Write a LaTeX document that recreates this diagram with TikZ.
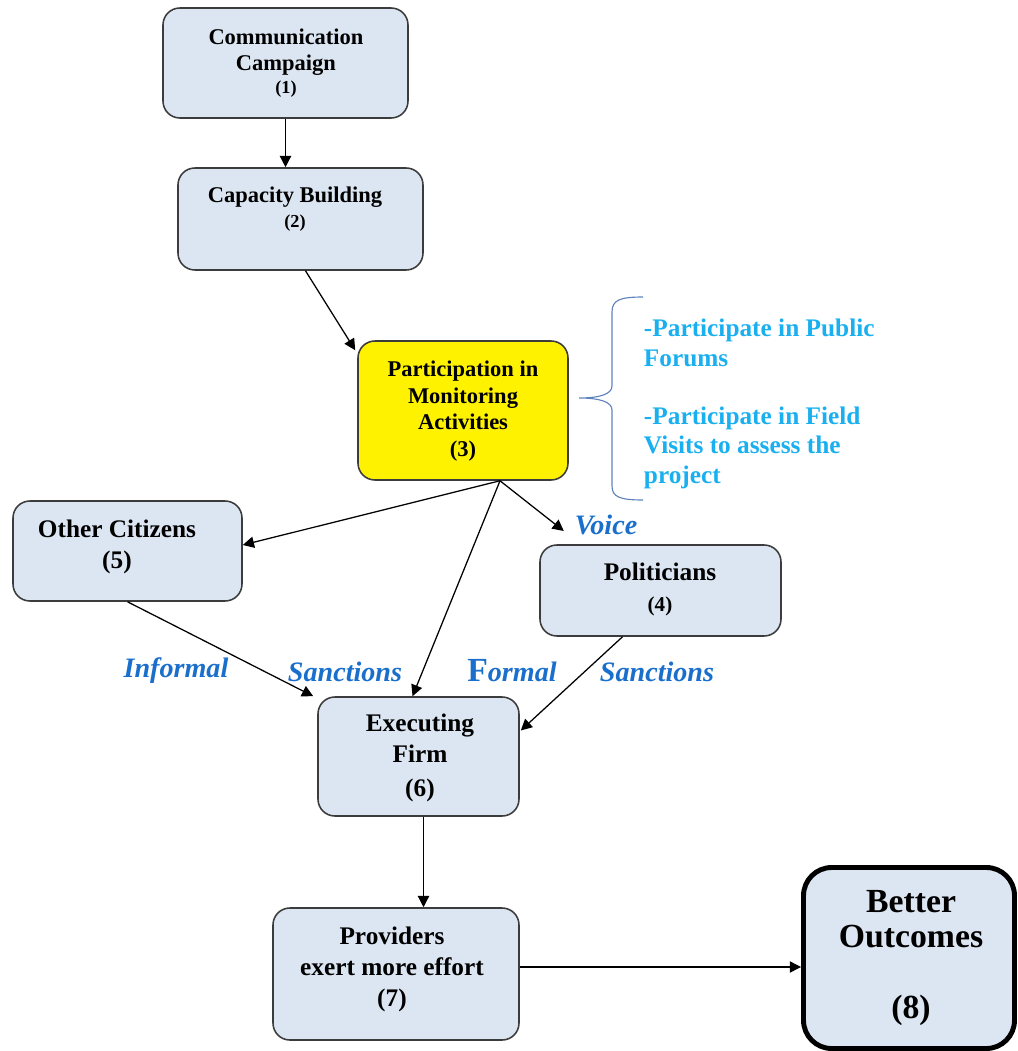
\documentclass[tikz,border=0pt]{standalone}
\usepackage{fontspec}
\setmainfont{Liberation Serif}
\usetikzlibrary{arrows.meta}

\definecolor{boxfill}{RGB}{220,230,242}
\definecolor{boxline}{RGB}{60,60,60}
\definecolor{listblue}{RGB}{26,176,240}
\definecolor{labelblue}{RGB}{26,111,204}
\definecolor{bracecol}{RGB}{95,130,190}

\tikzset{
  box/.style 2 args={draw=boxline, fill=boxfill, line width=1.1pt, rounded corners=12pt,
    minimum width=#1*0.025cm, minimum height=#2*0.025cm, inner sep=0pt},
  boxtext/.style={align=center, font=\fontsize{16}{19}\selectfont\bfseries},
  bigtext/.style={align=center, font=\fontsize{18}{22}\selectfont\bfseries},
  linklabel/.style={text=labelblue, font=\fontsize{20}{24}\selectfont\bfseries\itshape},
  link/.style={line width=0.9pt, -{Triangle[length=8pt,width=8pt]}}
}

\begin{document}
\begin{tikzpicture}[x=0.025cm, y=-0.025cm]
			\useasboundingbox (0,0) rectangle (1018,1051);
			% boxes
			\node [box={245}{110}] (comm) at (285.5,63) {};
			\node [box={245}{102}] (cap) at (300.5,219) {};
			\node [box={210}{139}, fill=yellow] (part) at (463,410.5) {};
			\node [box={229}{100}] (cit) at (127.5,551) {};
			\node [box={241}{91}] (pol) at (660.5,590.5) {};
			\node [box={201}{119}] (firm) at (418.5,756.5) {};
			\node [box={246}{132}] (prov) at (396,974) {};
			\node [box={211}{181}, draw=black, line width=3.5pt, rounded corners=20pt] (out) at (909,958) {};
			% box texts
			\node [boxtext] (commT) at (286,63) {Communication\\Campaign\\[-3pt]{\fontsize{13}{15}\selectfont(1)}};
			\node [boxtext] (capT) at (295,209) {Capacity Building\\[-1pt]{\fontsize{13}{15}\selectfont(2)}};
			\node [boxtext] (partT) at (463,411) {Participation in\\Monitoring\\Activities\\(3)};
			\node [bigtext] (citT) at (117,547) {Other Citizens\\(5)};
			\node [bigtext] (polT) at (660,589) {Politicians\\{\fontsize{15}{18}\selectfont(4)}};
			\node [bigtext] (firmT) at (420,758) {Executing\\Firm\\[2pt](6)};
			\node [bigtext] (provT) at (392,969) {Providers\\exert more effort\\(7)};
			\node [align=center, font=\fontsize{24}{24.5}\selectfont\bfseries] (outT) at (911,958) {Better\\Outcomes\\[26pt](8)};
			% list beside the brace
			\node [anchor=west, align=left, text=listblue, font=\fontsize{18}{21}\selectfont\bfseries] (acts) at (639,404)
				{-Participate in Public\\Forums\\[20pt]-Participate in Field\\Visits to assess the\\project};
			\draw [bracecol, line width=0.8pt] (643,297) .. controls (620,297) and (612,300) .. (612,312)
				-- (612,386) .. controls (612,394) and (600,398) .. (579,398)
				.. controls (600,398) and (612,402) .. (612,410)
				-- (612,486) .. controls (612,497) and (620,500) .. (643,500);
			% link labels
			\node [linklabel] (voice) at (606,525) {Voice};
			\node [linklabel] (infL) at (176,671) {Informal};
			\node [linklabel] (sanL) at (345,672) {Sanctions};
			\node [linklabel] (forL) at (512,671) {{\fontsize{24}{24}\selectfont\upshape F}ormal};
			\node [linklabel] (sanR) at (657,672) {Sanctions};
			% arrows
			\coordinate (fork) at ([shift={(37,0)}]part.south);
			\draw [link] (comm.south) -- (comm.south |- cap.north);
			\draw [link] ([shift={(5,0)}]cap.south) -- ([shift={(-2,10)}]part.north west);
			\draw [link] (fork) -- ([shift={(0,-6)}]cit.east);
			\draw [link] (fork) -- ([shift={(-6,0)}]firm.north);
			\draw [link] (fork) -- ([shift={(-6,6)}]voice.west);
			\draw [link] (cit.south) -- ([shift={(-4,0)}]firm.north west);
			\draw [link] ([shift={(-38,0)}]pol.south) -- ([shift={(1,-26)}]firm.east);
			\draw [link] ([shift={(5,0)}]firm.south) coordinate (fs) -- (fs |- prov.north);
			\draw [link] ([shift={(0,-7)}]prov.east) coordinate (pe) -- (pe -| out.west);
		\end{tikzpicture}
\end{document}
